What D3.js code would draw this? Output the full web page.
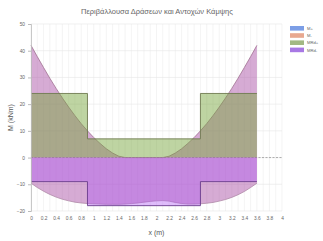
<!DOCTYPE html>
<html lang="el">
<head>
    <meta charset="UTF-8">
    <title>Περιβάλλουσα</title>
    <style>
        html, body { margin: 0; padding: 0; background: #fff; }
        #chart { width: 323px; height: 241px; }
        text { font-family: "Liberation Sans", Arial, sans-serif; }
    </style>
</head>
<body>
    <div id="chart"></div>
    <script src="https://d3js.org/d3.v7.min.js"></script>
    <script>
        // x positions along the beam (m)
        const xs = [0, 0.1, 0.2, 0.3, 0.4, 0.5, 0.6, 0.7, 0.8, 0.9, 1.0, 1.1, 1.2, 1.3, 1.4, 1.5, 1.6, 1.7, 1.8,
                    1.9, 2.0, 2.1, 2.2, 2.3, 2.4, 2.5, 2.6, 2.7, 2.8, 2.9, 3.0, 3.1, 3.2, 3.3, 3.4, 3.5, 3.6];
        // envelope of actions (kNm)
        const mPlus = [42, 37.8, 33.7, 29.7, 25.9, 22.3, 18.9, 15.7, 12.7, 10, 7.5, 5.3, 3.3, 1.7, 0.5, 0, 0, 0, 0,
                       0, 0, 0, 0.5, 1.7, 3.3, 5.3, 7.5, 10, 12.7, 15.7, 18.9, 22.3, 25.9, 29.7, 33.7, 37.8, 42];
        const mMinus = [-9.6, -11.2, -12.6, -13.8, -14.8, -15.6, -16.2, -16.7, -17, -17.2, -17.3, -17.4, -17.5, -17.5, -17.5, -17.4, -17.2, -17, -16.7,
                        -16.4, -16.2, -16.1, -16.3, -16.8, -17.2, -17.4, -17.4, -17.3, -17.1, -16.8, -16.3, -15.7, -14.9, -13.9, -12.7, -11.2, -9.6];
        // bending resistances (step)
        const stepX = [0, 0.9, 2.7, 3.6];
        const mRdPlus = [24, 7, 24, 24];
        const mRdMinus = [-9, -18, -9, -9];
        // ticks
        const xTicks = [0, 0.2, 0.4, 0.6, 0.8, 1, 1.2, 1.4, 1.6, 1.8, 2, 2.2, 2.4, 2.6, 2.8, 3, 3.2, 3.4, 3.6, 3.8, 4];
        const yTicks = [-20, -10, 0, 10, 20, 30, 40, 50];
        const legendLabels = ['M+', 'M-', 'MRd+', 'MRd-'];
        const legendColors = ['#7c9ee6', '#e8a890', '#a3b884', '#a878e4'];

        document.addEventListener('DOMContentLoaded', () => {
            const width = 323, height = 241;
            const margin = { left: 31, right: 41, top: 24, bottom: 30 };

            const svg = d3.select('#chart').append('svg')
                .attr('width', width)
                .attr('height', height);

            const x = d3.scaleLinear().domain([0, 4]).range([margin.left, width - margin.right]);
            const y = d3.scaleLinear().domain([-20, 50]).range([height - margin.bottom, margin.top]);

            // title
            svg.append('text')
                .attr('x', 157).attr('y', 14)
                .attr('text-anchor', 'middle')
                .attr('font-size', 7.5)
                .attr('fill', '#666')
                .text('Περιβάλλουσα Δράσεων και Αντοχών Κάμψης');

            // grid
            const grid = svg.append('g');
            grid.selectAll('line.vx')
                .data(d3.range(0, 41).map(i => i / 10))
                .join('line')
                .attr('x1', d => x(d)).attr('x2', d => x(d))
                .attr('y1', y(50)).attr('y2', y(-20))
                .attr('stroke', '#ececec').attr('stroke-width', 0.6);
            grid.selectAll('line.hy')
                .data(yTicks)
                .join('line')
                .attr('x1', x(0)).attr('x2', x(4))
                .attr('y1', d => y(d)).attr('y2', d => y(d))
                .attr('stroke', '#e6e6e6').attr('stroke-width', 0.6);

            // zero line
            svg.append('line')
                .attr('x1', x(0)).attr('x2', x(4))
                .attr('y1', y(0)).attr('y2', y(0))
                .attr('stroke', '#999').attr('stroke-width', 0.8)
                .attr('stroke-dasharray', '2,1.5');

            // envelope band
            const pts = xs.map((d, i) => ({ x: d, hi: mPlus[i], lo: mMinus[i] }));
            const band = d3.area()
                .x(d => x(d.x)).y0(d => y(d.lo)).y1(d => y(d.hi));
            svg.append('path')
                .attr('d', band(pts))
                .attr('fill', 'rgba(170, 80, 165, 0.48)');
            svg.append('path')
                .attr('d', d3.line().x(d => x(d.x)).y(d => y(d.hi))(pts))
                .attr('fill', 'none').attr('stroke', '#a07090').attr('stroke-width', 0.8);
            svg.append('path')
                .attr('d', d3.line().x(d => x(d.x)).y(d => y(d.lo))(pts))
                .attr('fill', 'none').attr('stroke', '#b08aa8').attr('stroke-width', 0.8);

            // resistance steps
            const stepPts = (vals) => stepX.map((d, i) => ({ x: d, v: vals[i] }));
            const stepArea = d3.area().curve(d3.curveStepAfter)
                .x(d => x(d.x)).y0(y(0)).y1(d => y(d.v));
            const stepLine = d3.line().curve(d3.curveStepAfter)
                .x(d => x(d.x)).y(d => y(d.v));

            svg.append('path')
                .attr('d', stepArea(stepPts(mRdPlus)))
                .attr('fill', 'rgba(120, 165, 60, 0.48)');
            svg.append('path')
                .attr('d', stepLine(stepPts(mRdPlus)))
                .attr('fill', 'none').attr('stroke', '#6f7a50').attr('stroke-width', 0.9);

            svg.append('path')
                .attr('d', stepArea(stepPts(mRdMinus)))
                .attr('fill', 'rgba(170, 80, 245, 0.38)');
            svg.append('path')
                .attr('d', stepLine(stepPts(mRdMinus)))
                .attr('fill', 'none').attr('stroke', '#6a3c8c').attr('stroke-width', 0.9);

            // axes
            const yAxis = svg.append('g')
                .attr('transform', `translate(${x(0)},0)`)
                .call(d3.axisLeft(y).tickValues(yTicks).tickSize(3).tickPadding(3));
            const xAxis = svg.append('g')
                .attr('transform', `translate(0,${y(-20)})`)
                .call(d3.axisBottom(x).tickValues(xTicks).tickSize(0).tickPadding(6).tickFormat(d3.format('~g')));
            [yAxis, xAxis].forEach(a => {
                a.select('.domain').attr('stroke', '#bbb').attr('stroke-width', 0.8);
                a.selectAll('.tick line').attr('stroke', '#bbb');
                a.selectAll('text').attr('font-size', 4.8).attr('fill', '#666')
                    .attr('font-family', '"Liberation Sans", Arial, sans-serif');
            });
            xAxis.select('.domain').attr('stroke', 'none');

            // axis titles
            svg.append('text')
                .attr('transform', `translate(13,${y(15)}) rotate(-90)`)
                .attr('text-anchor', 'middle')
                .attr('font-size', 7).attr('fill', '#555')
                .text('M (kNm)');
            svg.append('text')
                .attr('x', x(2)).attr('y', 235)
                .attr('text-anchor', 'middle')
                .attr('font-size', 7).attr('fill', '#555')
                .text('x (m)');

            // legend
            const legend = svg.append('g').attr('transform', 'translate(290,26)');
            legendLabels.forEach((label, i) => {
                legend.append('rect')
                    .attr('x', 0).attr('y', i * 7.2)
                    .attr('width', 14).attr('height', 4.6)
                    .attr('fill', legendColors[i]);
                legend.append('text')
                    .attr('x', 17).attr('y', i * 7.2 + 4)
                    .attr('font-size', 4.2).attr('fill', '#666')
                    .text(label);
            });
        });
    </script>
</body>
</html>
